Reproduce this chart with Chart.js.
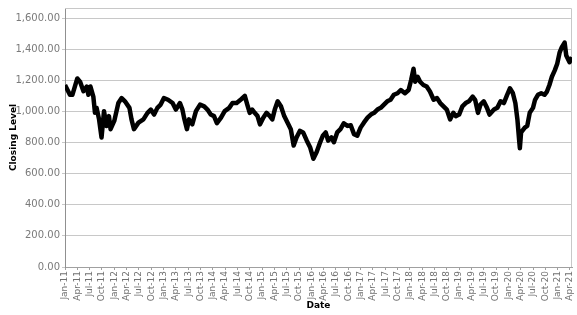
<!DOCTYPE html>
<html>
<head>
<meta charset="utf-8">
<script src="https://cdn.jsdelivr.net/npm/chart.js@4.4.1/dist/chart.umd.min.js"></script>
<style>
  html, body { margin: 0; padding: 0; background: #fff; }
</style>
</head>
<body>
<canvas id="chart" width="577" height="315"></canvas>
<script>
// months after Jan 2011
const sampleMonths = [
  0, 1.2, 1.8, 3, 3.7, 4.5, 5.3, 5.7, 6.2, 6.9, 7.3, 7.7, 8.3, 8.9, 9.5, 10.1, 10.7, 11.1, 12, 13,
  13.8, 14.6, 15.7, 16.2, 16.8, 17.9, 19.1, 20.1, 20.9, 21.7, 22.5, 23.3, 24.1, 25.1, 26.2, 27, 28, 28.6, 29, 29.7,
  30.2, 31, 31.9, 32.9, 33.9, 34.7, 35.5, 36.3, 37, 38, 38.9, 40, 40.8, 41.8, 43, 43.8, 44.4, 45, 45.6, 46.2,
  46.9, 47.5, 48.3, 49.1, 49.9, 50.5, 51.1, 51.8, 52.6, 53.4, 54.4, 55, 55.7, 56.4, 57.2, 58, 58.9, 59.7, 60.5, 61.3,
  62, 62.8, 63.5, 64.1, 64.9, 65.5, 66.3, 67.1, 67.9, 68.8, 69.6, 70.4, 71.2, 72, 72.8, 73.7, 74.5, 75.3, 76.1, 76.9,
  77.7, 78.5, 79.3, 80.1, 81, 81.8, 82.8, 83.7, 84.3, 84.9, 85.3, 85.9, 86.5, 87.3, 88.1, 88.9, 89.8, 90.6, 91.4, 92.2,
  93, 93.8, 94.6, 95.2, 96, 96.8, 97.6, 98.4, 99.3, 99.9, 100.6, 101.2, 102, 102.8, 103.4, 104.5, 105.3, 106.1, 106.9, 107.7,
  108.4, 109.1, 109.7, 110.2, 110.6, 110.8, 111.1, 112, 112.6, 113.2, 114, 114.5, 115.2, 116, 116.8, 117.4, 118, 118.6, 119.3, 119.9,
  120.5, 121, 121.7, 122.1, 122.9, 123.5
]
const closingLevels = [
  1170, 1107, 1107, 1212, 1190, 1130, 1160, 1107, 1160, 1096, 991, 1023, 949, 833, 1002, 907, 970, 886, 939, 1054,
  1086, 1065, 1023, 949, 886, 928, 949, 991, 1012, 980, 1023, 1044, 1086, 1075, 1054, 1012, 1054, 1012, 960, 886,
  949, 917, 1002, 1044, 1033, 1012, 980, 970, 924, 960, 1002, 1023, 1054, 1054, 1080, 1100, 1044, 991, 1012, 991,
  970, 917, 960, 991, 970, 949, 1012, 1065, 1033, 970, 917, 886, 781, 833, 875, 865, 812, 770, 696, 739,
  791, 844, 865, 812, 833, 802, 865, 886, 924, 907, 911, 854, 844, 896, 928, 960, 980, 991, 1012, 1023,
  1044, 1065, 1075, 1107, 1117, 1138, 1117, 1138, 1201, 1275, 1191, 1223, 1191, 1170, 1160, 1128, 1075, 1086, 1054, 1033,
  1012, 949, 991, 970, 980, 1033, 1054, 1065, 1096, 1075, 991, 1044, 1065, 1023, 980, 1012, 1023, 1065, 1054, 1107,
  1149, 1117, 1054, 949, 823, 764, 865, 896, 907, 991, 1023, 1075, 1107, 1117, 1107, 1128, 1170, 1223, 1264, 1307,
  1380, 1412, 1443, 1359, 1317, 1349
]
const tickLabels = [
  'Jan-11', 'Apr-11', 'Jul-11', 'Oct-11', 'Jan-12', 'Apr-12', 'Jul-12', 'Oct-12',
  'Jan-13', 'Apr-13', 'Jul-13', 'Oct-13', 'Jan-14', 'Apr-14', 'Jul-14', 'Oct-14',
  'Jan-15', 'Apr-15', 'Jul-15', 'Oct-15', 'Jan-16', 'Apr-16', 'Jul-16', 'Oct-16',
  'Jan-17', 'Apr-17', 'Jul-17', 'Oct-17', 'Jan-18', 'Apr-18', 'Jul-18', 'Oct-18',
  'Jan-19', 'Apr-19', 'Jul-19', 'Oct-19', 'Jan-20', 'Apr-20', 'Jul-20', 'Oct-20',
  'Jan-21', 'Apr-21'
]
const levelTicks = [0, 200, 400, 600, 800, 1000, 1200, 1400, 1600]

Chart.defaults.font.family = "'DejaVu Sans', Verdana, sans-serif"
Chart.defaults.font.size = 10

// light frame on top and right of the plot
const plotFrame = {
  id: 'plotFrame',
  beforeDatasetsDraw(chart) {
    const { ctx, chartArea: a } = chart
    ctx.save()
    ctx.strokeStyle = '#c8c8c8'
    ctx.lineWidth = 1
    ctx.beginPath()
    ctx.moveTo(a.left, Math.round(a.top) + 0.5)
    ctx.lineTo(Math.round(a.right) - 0.5, Math.round(a.top) + 0.5)
    ctx.lineTo(Math.round(a.right) - 0.5, a.bottom)
    ctx.stroke()
    ctx.restore()
  }
}

const chart = new Chart(document.getElementById('chart'), {
  type: 'line',
  data: {
    datasets: [
      {
        data: sampleMonths.map((m, i) => ({ x: m, y: closingLevels[i] })),
        borderColor: '#000000',
        borderWidth: 4.5,
        borderJoinStyle: 'round',
        pointRadius: 0,
        tension: 0
      }
    ]
  },
  options: {
    responsive: false,
    animation: false,
    layout: { padding: { left: 0, right: 5, top: 3, bottom: 0 } },
    plugins: {
      legend: { display: false },
      tooltip: { enabled: false }
    },
    scales: {
      x: {
        type: 'linear',
        min: 0,
        max: 123.5,
        afterBuildTicks: scale => {
          scale.ticks = tickLabels.map((_, i) => ({ value: i * 3 }))
        },
        afterFit: scale => {
          scale.height = 48
          scale.paddingLeft = 0
          scale.paddingRight = 0
        },
        ticks: {
          autoSkip: false,
          maxRotation: 90,
          minRotation: 90,
          padding: 1,
          color: '#707070',
          font: { size: 9 },
          callback: value => tickLabels[value / 3]
        },
        grid: {
          drawOnChartArea: false,
          drawTicks: true,
          tickLength: 3,
          color: '#a0a0a0'
        },
        border: { color: '#a0a0a0' },
        title: {
          display: true,
          text: 'Date',
          color: '#000',
          font: { weight: 'bold', size: 9 },
          padding: { top: 0, bottom: 4 }
        }
      },
      y: {
        min: 0,
        max: 1665,
        afterBuildTicks: scale => {
          scale.ticks = levelTicks.map(v => ({ value: v }))
        },
        afterFit: scale => {
          scale.width = 65
        },
        ticks: {
          padding: 2,
          color: '#7a7a7a',
          callback: value => value.toLocaleString('en-US', { minimumFractionDigits: 2, maximumFractionDigits: 2 })
        },
        grid: {
          color: '#c8c8c8',
          tickLength: 3
        },
        border: { color: '#909090' },
        title: {
          display: true,
          text: 'Closing Level',
          color: '#000',
          font: { weight: 'bold', size: 9 },
          padding: { top: 8, bottom: 0 }
        }
      }
    }
  },
  plugins: [plotFrame]
})
</script>
</body>
</html>
